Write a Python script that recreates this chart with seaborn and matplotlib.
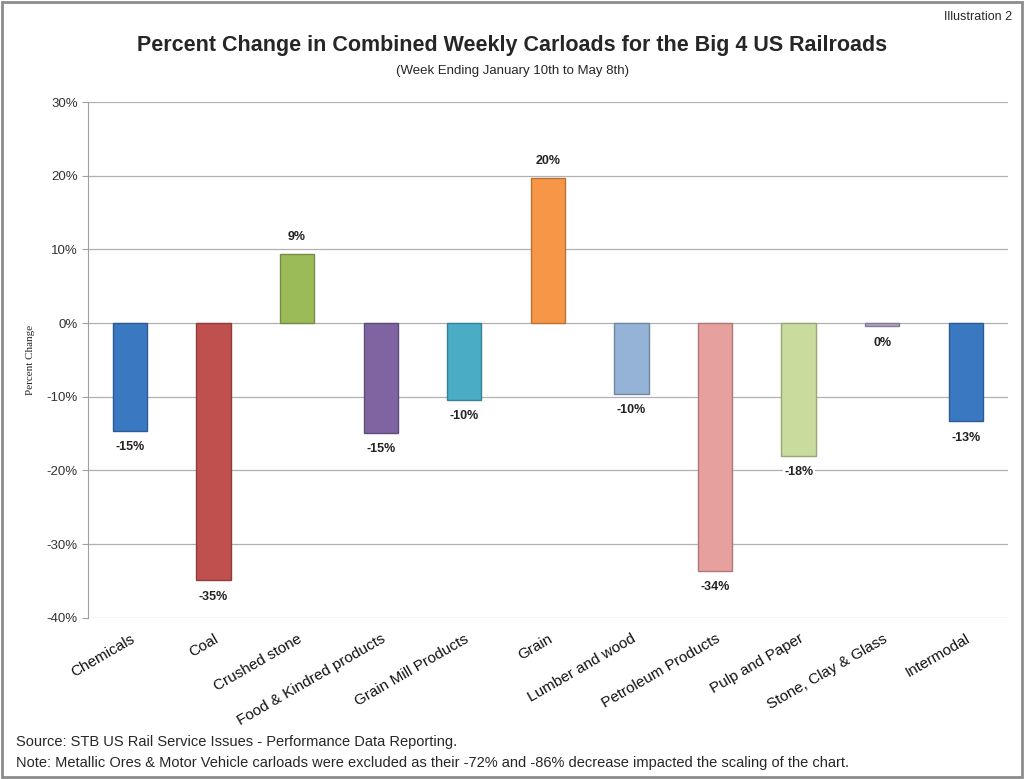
import matplotlib.pyplot as plt
import matplotlib.colors as mcolors
import seaborn as sns
import pandas as pd

OUTPUT_FILE = "out.png"

categories = ["Chemicals", "Coal", "Crushed stone", "Food & Kindred products",
              "Grain Mill Products", "Grain", "Lumber and wood", "Petroleum Products",
              "Pulp and Paper", "Stone, Clay & Glass", "Intermodal"]
pct_change = [-14.6, -34.9, 9.4, -14.9, -10.4, 19.7, -9.6, -33.6, -18.0, -0.45, -13.3]
bar_colors = ["#3a78c2", "#c0504d", "#9bbb59", "#8064a2", "#4bacc6", "#f79646",
              "#95b3d7", "#e6a09e", "#c9dc9e", "#b3a2c7", "#3a78c2"]
y_ticks = [-40, -30, -20, -10, 0, 10, 20, 30]

sns.set_style("white")
plt.rcParams["font.family"] = ["Liberation Sans Narrow", "Liberation Sans", "DejaVu Sans"]

fig = plt.figure(figsize=(10.24, 7.79), dpi=100)
ax = fig.add_axes([0.086, 0.207, 0.898, 0.662])

df = pd.DataFrame({"category": categories, "value": pct_change})
sns.barplot(data=df, x="category", y="value", hue="category", palette=bar_colors,
            saturation=1, legend=False, width=0.41, ax=ax, zorder=3)

# darker edges to hint at the bevel look
for p, c in zip(ax.patches, bar_colors):
    rgb = mcolors.to_rgb(c)
    p.set_edgecolor(tuple(v * 0.75 for v in rgb))
    p.set_linewidth(1.0)

# value labels
for p, v in zip(ax.patches, pct_change):
    x = p.get_x() + p.get_width() / 2.0
    off = 12 if v >= 0 else -12
    ax.annotate(f"{round(v):.0f}%", (x, v), xytext=(0, off), textcoords="offset points",
                ha="center", va="center", fontsize=9, fontweight="bold", color="#222222",
                zorder=4, bbox=dict(facecolor="white", edgecolor="none", pad=1))

ax.set_ylim(-40, 30)
ax.set_yticks(y_ticks)
ax.set_yticklabels([f"{t}%" for t in y_ticks], fontsize=9.5, color="#333333")
ax.set_xlim(-0.5, len(categories) - 0.5)
ax.yaxis.grid(True, color="#b0b0b0", linewidth=0.9, zorder=0)
ax.xaxis.grid(False)
for s in ["top", "right", "bottom"]:
    ax.spines[s].set_visible(False)
ax.spines["left"].set_color("#a0a0a0")
ax.tick_params(axis="y", length=4, color="#a0a0a0", left=True)
ax.tick_params(axis="x", length=0, pad=10)

ax.set_xticks(range(len(categories)))
ax.set_xticklabels(categories, rotation=30, ha="right", rotation_mode="anchor",
                   fontsize=11, color="#111111")
ax.set_xlabel("")
ax.set_ylabel("Percent Change", fontsize=8, family="Liberation Serif", labelpad=8)

fig.text(0.5, 0.941, "Percent Change in Combined Weekly Carloads for the Big 4 US Railroads",
         ha="center", va="center", fontsize=15.5, fontweight="bold")
fig.text(0.5, 0.909, "(Week Ending January 10th to May 8th)", ha="center", va="center",
         fontsize=9.5)
fig.text(0.988, 0.978, "Illustration 2", ha="right", va="center", fontsize=9)
fig.text(0.016, 0.047, "Source: STB US Rail Service Issues - Performance Data Reporting.",
         ha="left", va="center", fontsize=10.5)
fig.text(0.016, 0.020, "Note: Metallic Ores & Motor Vehicle carloads were excluded as their "
         "-72% and -86% decrease impacted the scaling of the chart.",
         ha="left", va="center", fontsize=10.5)

# outer frame
fig.patches.append(plt.Rectangle((0.002, 0.003), 0.996, 0.994, transform=fig.transFigure,
                                 fill=False, edgecolor="#8c8c8c", linewidth=2))

plt.savefig(OUTPUT_FILE, dpi=100)
